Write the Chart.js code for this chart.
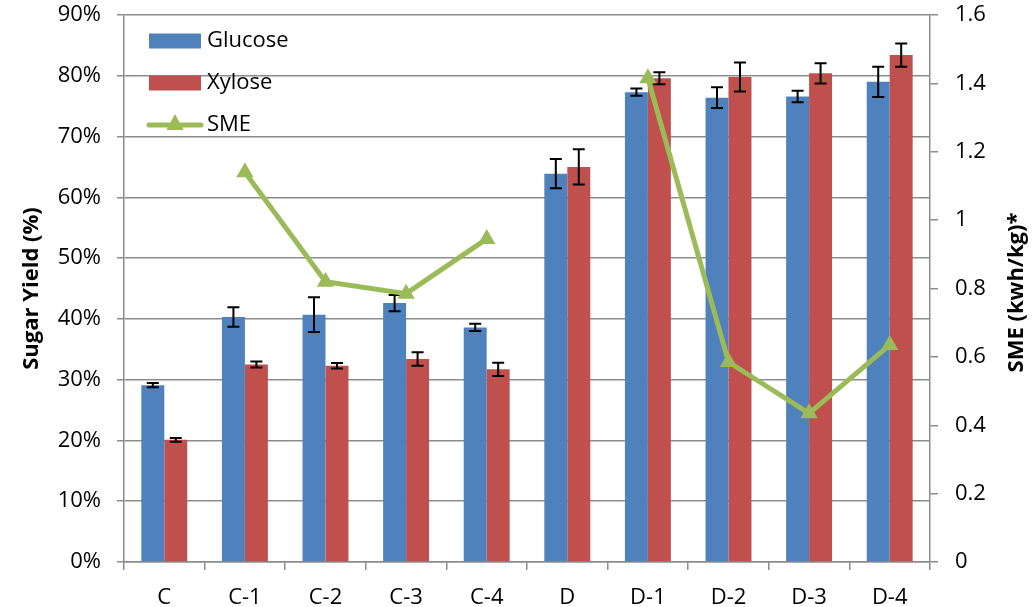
<!DOCTYPE html>
<html>
<head>
<meta charset="utf-8">
<script src="https://cdn.jsdelivr.net/npm/chart.js@4/dist/chart.umd.min.js"></script>
<style>
  html, body { margin: 0; padding: 0; background: #ffffff; }
  canvas { display: block; }
</style>
</head>
<body>
<canvas id="chart" width="1036" height="607"></canvas>
<script>
// Sample labels
const categories = ['C', 'C-1', 'C-2', 'C-3', 'C-4', 'D', 'D-1', 'D-2', 'D-3', 'D-4'];

// Sugar yields (%) with standard deviations
const glucose    = [29.1, 40.3, 40.7, 42.6, 38.6, 63.9, 77.3, 76.4, 76.6, 79.0];
const glucoseErr = [0.35, 1.6, 2.85, 1.35, 0.6, 2.4, 0.6, 1.7, 0.95, 2.5];
const xylose     = [20.1, 32.5, 32.3, 33.4, 31.7, 65.0, 79.6, 79.8, 80.4, 83.4];
const xyloseErr  = [0.3, 0.5, 0.45, 1.1, 1.1, 2.9, 1.0, 2.4, 1.65, 1.9];

// Specific mechanical energy (kWh/kg); no value for C and D
const sme = [null, 1.14, 0.82, 0.785, 0.945, null, 1.415, 0.585, 0.435, 0.635];

// Right-axis tick labels, bottom to top
const smeTickLabels = ['0', '0.2', '0.4', '0.6', '0.8', '1', '1.2', '1.4', '1.6'];

const BLUE = '#4F81BD';
const RED = '#C0504D';
const GREEN = '#9BBB59';
const GRID = '#8c8c8c';
const FONT = "'Open Sans', 'DejaVu Sans', sans-serif";

Chart.defaults.font.family = FONT;
Chart.defaults.font.size = 22;
Chart.defaults.color = '#000000';

// Vertical error bars drawn right after each bar dataset
const errorBars = {
  id: 'errorBars',
  afterDatasetDraw(chart, args) {
    const ds = chart.data.datasets[args.index];
    if (!ds.errors) return;
    const yScale = chart.scales[ds.yAxisID || 'y'];
    const ctx = chart.ctx;
    ctx.save();
    ctx.strokeStyle = '#000000';
    ctx.lineWidth = 2;
    args.meta.data.forEach((bar, i) => {
      const v = ds.data[i], e = ds.errors[i];
      if (v == null || e == null) return;
      const x = bar.x;
      const yTop = yScale.getPixelForValue(v + e);
      const yBot = yScale.getPixelForValue(v - e);
      const cap = 6;
      ctx.beginPath();
      ctx.moveTo(x, yTop); ctx.lineTo(x, yBot);
      ctx.moveTo(x - cap, yTop); ctx.lineTo(x + cap, yTop);
      ctx.moveTo(x - cap, yBot); ctx.lineTo(x + cap, yBot);
      ctx.stroke();
    });
    ctx.restore();
  }
};

// Legend box in the upper-left of the plot area
const insetLegend = {
  id: 'insetLegend',
  afterDraw(chart) {
    const ctx = chart.ctx;
    const area = chart.chartArea;
    const x0 = area.left + 25;
    const rows = [area.top + 26, area.top + 68, area.top + 110];
    ctx.save();
    ctx.font = '22px ' + FONT;
    ctx.textBaseline = 'middle';
    chart.data.datasets.forEach((ds, i) => {
      const y = rows[i];
      if (ds.type === 'line') {
        ctx.strokeStyle = ds.borderColor;
        ctx.lineWidth = 5;
        ctx.lineCap = 'round';
        ctx.beginPath();
        ctx.moveTo(x0, y); ctx.lineTo(x0 + 52, y);
        ctx.stroke();
        const r = 10, cx = x0 + 26, cy = y - 1;
        ctx.fillStyle = ds.backgroundColor;
        ctx.beginPath();
        ctx.moveTo(cx, cy - r);
        ctx.lineTo(cx + r * 0.866, cy + r * 0.5 + 1);
        ctx.lineTo(cx - r * 0.866, cy + r * 0.5 + 1);
        ctx.closePath();
        ctx.fill();
      } else {
        ctx.fillStyle = ds.backgroundColor;
        ctx.fillRect(x0, y - 7.5, 52, 15);
      }
      ctx.fillStyle = '#000000';
      ctx.fillText(ds.label, x0 + 58, y);
    });
    ctx.restore();
  }
};

// Right axis title, reading bottom to top
const rightTitle = {
  id: 'rightTitle',
  afterDraw(chart) {
    const ctx = chart.ctx;
    const area = chart.chartArea;
    ctx.save();
    ctx.translate(1017, (area.top + area.bottom) / 2 + 4);
    ctx.rotate(-Math.PI / 2);
    ctx.font = 'bold 22px ' + FONT;
    ctx.textAlign = 'center';
    ctx.textBaseline = 'middle';
    ctx.fillStyle = '#000000';
    ctx.fillText('SME (kwh/kg)*', 0, 0);
    ctx.restore();
  }
};

// Fixed axis sizes; edge labels may overhang the plot area
function fixVertical(width) {
  return s => { s.width = width; s.paddingTop = 0; s.paddingBottom = 0; };
}

new Chart(document.getElementById('chart'), {
  data: {
    labels: categories,
    datasets: [
      {
        type: 'bar', label: 'Glucose', data: glucose, errors: glucoseErr,
        backgroundColor: BLUE, yAxisID: 'y', order: 1,
        categoryPercentage: 0.57, barPercentage: 1.0
      },
      {
        type: 'bar', label: 'Xylose', data: xylose, errors: xyloseErr,
        backgroundColor: RED, yAxisID: 'y', order: 2,
        categoryPercentage: 0.57, barPercentage: 1.0
      },
      {
        type: 'line', label: 'SME', data: sme, yAxisID: 'y1', order: 0,
        borderColor: GREEN, backgroundColor: GREEN, borderWidth: 5,
        pointStyle: 'triangle', pointRadius: 10, pointBorderWidth: 0,
        pointBackgroundColor: GREEN, spanGaps: false, tension: 0
      }
    ]
  },
  options: {
    responsive: false,
    animation: false,
    layout: { padding: { top: 15, left: 0, right: 0, bottom: 0 } },
    plugins: {
      legend: { display: false },
      tooltip: { enabled: false }
    },
    scales: {
      x: {
        offset: true,
        grid: { offset: true, drawOnChartArea: false, drawTicks: true, tickLength: 8, color: GRID, lineWidth: 1.5 },
        border: { color: GRID, width: 1.5 },
        ticks: { padding: 15, font: { size: 22 } },
        afterFit(s) { s.height = 45; s.paddingLeft = 0; s.paddingRight = 0; }
      },
      y: {
        position: 'left',
        min: 0, max: 90,
        ticks: { stepSize: 10, padding: 16, callback: v => v + '%' },
        grid: { color: GRID, lineWidth: 1.5, tickLength: 7 },
        border: { color: GRID, width: 1.5 },
        title: { display: true, text: 'Sugar Yield (%)', font: { weight: 'bold', size: 22 }, padding: { top: 19, bottom: 0 } },
        afterFit: fixVertical(124)
      },
      y1: {
        position: 'right',
        min: 0, max: 1.6,
        ticks: { stepSize: 0.2, padding: 17, callback: (v, i) => smeTickLabels[i] },
        grid: { drawOnChartArea: false, color: GRID, lineWidth: 1.5, tickLength: 8 },
        border: { color: GRID, width: 1.5 },
        afterFit: fixVertical(106)
      }
    }
  },
  plugins: [errorBars, insetLegend, rightTitle]
});
</script>
</body>
</html>
